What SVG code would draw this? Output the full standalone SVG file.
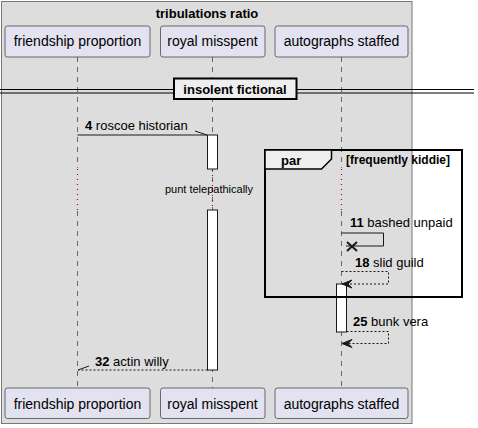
<svg xmlns="http://www.w3.org/2000/svg" width="478" height="428" viewBox="0 0 478 428">
<defs>
<style>
text{font-family:"Liberation Sans",Arial,sans-serif;fill:#000}
.part rect{fill:#E2E2F0;stroke:#181818;stroke-width:0.6}
.part text{font-size:14px}
.life{stroke:#181818;stroke-width:0.6;stroke-dasharray:5,5;fill:none}
.delay{stroke:#B0003A;stroke-width:1.2;stroke-dasharray:1,4;fill:none}
.act{fill:#fff;stroke:#181818;stroke-width:1}
.msg{stroke:#181818;stroke-width:1;fill:none}
.dash{stroke-dasharray:2,2}
.lbl{font-size:13px}
.num{font-weight:bold}
</style>
</defs>
<rect x="1.5" y="1.5" width="410.5" height="422" fill="#DDDDDD" stroke="#777" stroke-width="1"/>
<text x="207" y="18" text-anchor="middle" font-size="13" font-weight="bold">tribulations ratio</text>

<g id="lifelines">
<line class="life" x1="77.5" y1="57" x2="77.5" y2="168"/>
<line class="delay" x1="77.5" y1="169" x2="77.5" y2="210"/>
<line class="life" x1="77.5" y1="211" x2="77.5" y2="388"/>
<line class="life" x1="212.5" y1="57" x2="212.5" y2="388"/>
<line class="delay" x1="212.5" y1="170" x2="212.5" y2="210"/>
<line class="life" x1="341.5" y1="57" x2="341.5" y2="168"/>
<line class="delay" x1="341.5" y1="169" x2="341.5" y2="210"/>
<line class="life" x1="341.5" y1="211" x2="341.5" y2="388"/>
</g>

<g id="p1-top" class="part"><rect x="5" y="26" width="145" height="31" rx="2.5"/><text x="77.5" y="46" text-anchor="middle">friendship proportion</text></g>
<g id="p2-top" class="part"><rect x="160.5" y="26" width="104.5" height="31" rx="2.5"/><text x="212.5" y="46" text-anchor="middle">royal misspent</text></g>
<g id="p3-top" class="part"><rect x="275" y="26" width="133" height="31" rx="2.5"/><text x="341.5" y="46" text-anchor="middle">autographs staffed</text></g>

<g id="divider">
<line x1="0" y1="89.5" x2="474" y2="89.5" stroke="#000" stroke-width="1.2"/>
<line x1="0" y1="93" x2="474" y2="93" stroke="#000" stroke-width="1.2"/>
<rect x="174" y="78.5" width="122.5" height="20.5" fill="#EEEEEE" stroke="#000" stroke-width="2"/>
<text x="235" y="94" text-anchor="middle" font-size="13" font-weight="bold">insolent fictional</text>
</g>

<g id="activations">
<rect class="act" x="207.5" y="135" width="10" height="34"/>
<rect class="act" x="207.5" y="210" width="10" height="160"/>
<rect class="act" x="336.5" y="284" width="10" height="48"/>
</g>

<g id="par-frame">
<rect x="265" y="150" width="197" height="147" fill="none" stroke="#000" stroke-width="2"/>
<path d="M265,150 L331.5,150 L331.5,159 L321.5,169 L265,169 Z" fill="#EEEEEE" stroke="#000" stroke-width="1.5"/>
<text x="281" y="165" font-size="13" font-weight="bold">par</text>
<text x="346" y="164" font-size="12" font-weight="bold">[frequently kiddie]</text>
</g>

<text x="209" y="193" text-anchor="middle" font-size="11">punt telepathically</text>

<g id="connectors">
<g id="m4">
<line class="msg" x1="77.5" y1="135" x2="207" y2="135"/>
<line class="msg" x1="195" y1="131" x2="207" y2="135"/>
<text class="lbl" x="85" y="130"><tspan class="num">4</tspan> roscoe historian</text>
</g>
<g id="m11">
<polyline class="msg" points="341.5,233 383.5,233 383.5,246 346,246"/>
<path d="M347,242 L357,251 M347,251 L357,242" stroke="#181818" stroke-width="2" fill="none"/>
<text class="lbl" x="350" y="227"><tspan class="num">11</tspan> bashed unpaid</text>
</g>
<g id="m18">
<polyline class="msg dash" points="341.5,271.5 388.5,271.5 388.5,284 343,284"/>
<polygon points="342,284 352,280 348,284 352,288" fill="#181818" stroke="#181818" stroke-width="1"/>
<text class="lbl" x="355" y="267"><tspan class="num">18</tspan> slid guild</text>
</g>
<g id="m25">
<polyline class="msg dash" points="346.5,331.5 388.5,331.5 388.5,343.5 343,343.5"/>
<polygon points="342,343.5 352,339.5 348,343.5 352,347.5" fill="#181818" stroke="#181818" stroke-width="1"/>
<text class="lbl" x="353" y="326"><tspan class="num">25</tspan> bunk vera</text>
</g>
<g id="m32">
<line class="msg dash" x1="207.5" y1="370" x2="78" y2="370"/>
<line class="msg" x1="78" y1="370" x2="89" y2="366"/>
<text class="lbl" x="95" y="366"><tspan class="num">32</tspan> actin willy</text>
</g>
</g>

<g id="p1-bot" class="part"><rect x="5" y="388" width="145" height="30.5" rx="2.5"/><text x="77.5" y="409" text-anchor="middle">friendship proportion</text></g>
<g id="p2-bot" class="part"><rect x="160.5" y="388" width="104.5" height="30.5" rx="2.5"/><text x="212.5" y="409" text-anchor="middle">royal misspent</text></g>
<g id="p3-bot" class="part"><rect x="275" y="388" width="133" height="30.5" rx="2.5"/><text x="341.5" y="409" text-anchor="middle">autographs staffed</text></g>
</svg>
